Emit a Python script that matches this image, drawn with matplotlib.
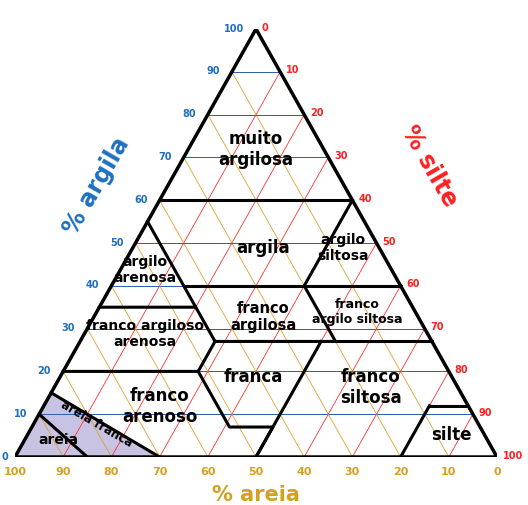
import numpy as np
import matplotlib
matplotlib.use("Agg")
import matplotlib.pyplot as plt

H = np.sqrt(3) / 2

# class boundaries as (sand, clay) segments
BOUNDS = [
    [(40, 60), (0, 60)],
    [(45, 55), (45, 35), (65, 35)],
    [(45, 35), (45, 27), (20, 27), (20, 40)],
    [(45, 40), (0, 40)],
    [(0, 60), (20, 40)],
    [(45, 27), (52, 20), (80, 20)],
    [(52, 20), (52, 7), (43, 7), (50, 0)],
    [(23, 27), (50, 0)],
    [(20, 27), (0, 27)],
    [(8, 12), (0, 12)],
    [(8, 12), (20, 0)],
    [(85, 15), (70, 0)],
    [(90, 10), (85, 0)],
]
SAND_FILL = [(100, 0), (85, 15), (70, 0)]

LABELS = ["muito\nargilosa", "argila", "argilo\nsiltosa", "argilo\narenosa", "franco\nargilosa",
          "franco\nargilo siltosa", "franco argiloso\narenosa", "franca", "franco\nsiltosa",
          "franco\narenoso", "silte", "areia"]
LABEL_SAND = [14, 24, 7.5, 51, 32, 12, 58.5, 41, 18, 64, 6.7, 88.8]
LABEL_CLAY = [72, 49, 49, 44, 33, 34, 29, 19, 16.4, 12, 5.4, 4.2]
LABEL_SIZE = [12, 12, 10, 10, 10.5, 9, 10, 12, 12, 12, 12, 10]
TICKS = list(range(0, 101, 10))


def xy(sand, clay):
    return 100 - sand - clay / 2, clay * H


fig = plt.figure(figsize=(5.28, 5.06), dpi=100)
ax = fig.add_axes([15 / 528, 48 / 506, 482 / 528, 428 / 506])
ax.set_xlim(0, 100)
ax.set_ylim(0, 100 * H)
ax.axis("off")

# shaded sand classes
pts = [xy(s, c) for s, c in SAND_FILL]
ax.fill([p[0] for p in pts], [p[1] for p in pts], color="#c8c3e2", zorder=1)

# grid
for v in TICKS[1:-1]:
    a, b = xy(100 - v, v), xy(0, v)
    ax.plot([a[0], b[0]], [a[1], b[1]], color="#2a5db0", lw=0.7, zorder=2)
    a, b = xy(100 - v, 0), xy(0, 100 - v)  # constant silt = v
    ax.plot([a[0], b[0]], [a[1], b[1]], color="#ff3030", lw=0.6, zorder=2)
    a, b = xy(v, 0), xy(v, 100 - v)
    ax.plot([a[0], b[0]], [a[1], b[1]], color="#e0a030", lw=0.6, zorder=2)

tri = [xy(100, 0), xy(0, 0), xy(0, 100), xy(100, 0)]
ax.plot([p[0] for p in tri], [p[1] for p in tri], color="black", lw=2.5, zorder=4)
for seg in BOUNDS:
    p = [xy(s, c) for s, c in seg]
    ax.plot([q[0] for q in p], [q[1] for q in p], color="black", lw=2.2, zorder=4)

for t, s, c, fs in zip(LABELS, LABEL_SAND, LABEL_CLAY, LABEL_SIZE):
    x, y = xy(s, c)
    ax.text(x, y, t, ha="center", va="center", fontsize=fs, fontweight="bold", zorder=5)
x, y = xy(79, 8)
ax.text(x, y, "areia franca", ha="center", va="center", fontsize=8.5, fontweight="bold",
        rotation=-30, zorder=5)

for v in TICKS:
    x, y = xy(100 - v, v)
    ax.text(x - 2.5 if v else x - 1.3, y + 0.3, str(v), ha="right", va="center",
            color="#1f6fc0", fontsize=7, fontweight="bold", clip_on=False)
    x, y = xy(0, 100 - v)
    ax.text(x + 1.2, y + 0.5, str(v), ha="left", va="center", color="#ff2020",
            fontsize=7, fontweight="bold", clip_on=False)
    x, y = xy(v, 0)
    ax.text(x, -1.8, str(v), ha="center", va="top", color="#d4a020",
            fontsize=8, fontweight="bold", clip_on=False)

ax.text(17, 55, "% argila", rotation=60, ha="center", va="center", color="#1f6fc0",
        fontsize=17, fontweight="bold")
ax.text(86, 59, "% silte", rotation=-60, ha="center", va="center", color="#ff2020",
        fontsize=17, fontweight="bold")
ax.text(50, -7.5, "% areia", ha="center", va="center", color="#d4a020",
        fontsize=15, fontweight="bold", clip_on=False)

fig.savefig("out.png", dpi=100)
